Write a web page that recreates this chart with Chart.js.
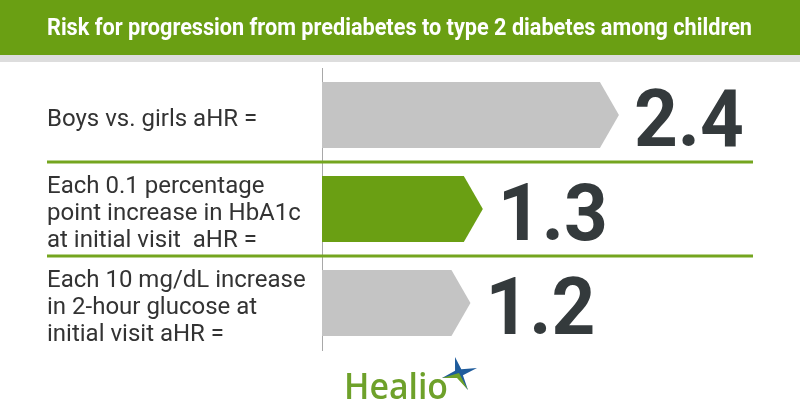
<!DOCTYPE html>
<html lang="en">
<head>
  <meta charset="UTF-8" />
  <title>Risk for progression from prediabetes to type 2 diabetes among children</title>
  <style>
    html, body {
      margin: 0;
      padding: 0;
      background: #fff;
    }
    canvas {
      display: block;
    }
  </style>
</head>
<body>
  <canvas id="grafico" width="800" height="420"></canvas>

  <script src="https://cdn.jsdelivr.net/npm/chart.js"></script>
  <script>
    const titulo = "Risk for progression from prediabetes to type 2 diabetes among children";
    const categorias = [
      ["Boys vs. girls aHR ="],
      ["Each 0.1 percentage", "point increase in HbA1c", "at initial visit  aHR ="],
      ["Each 10 mg/dL increase", "in 2-hour glucose at", "initial visit aHR ="]
    ];
    const valoresAHR = [2.4, 1.3, 1.2];
    const etiquetasValor = ["2.4", "1.3", "1.2"];
    const coloresBarra = ["#c4c4c4", "#6a9f13", "#c4c4c4"];

    const VERDE = "#6a9f13";
    const PUNTA = 19;

    // cabecera verde, separadores y logo
    const decoracion = {
      id: "decoracion",
      beforeDraw(chart) {
        const ctx = chart.ctx;
        ctx.save();
        ctx.fillStyle = "#fff";
        ctx.fillRect(0, 0, chart.width, chart.height);
        ctx.fillStyle = VERDE;
        ctx.fillRect(0, 0, chart.width, 55);
        ctx.fillStyle = "#dddddd";
        ctx.fillRect(0, 55, chart.width, 7);
        ctx.fillStyle = "#fff";
        ctx.font = "bold 23px Roboto";
        ctx.textBaseline = "middle";
        ctx.textAlign = "left";
        ctx.fillText(titulo, 47, 29, 705);
        ctx.restore();
      },
      afterDraw(chart) {
        const ctx = chart.ctx;
        const y = chart.scales.y;
        const area = chart.chartArea;
        ctx.save();
        ctx.strokeStyle = "#74a51f";
        ctx.lineWidth = 3;
        for (let i = 0; i < categorias.length - 1; i++) {
          const py = (y.getPixelForValue(i) + y.getPixelForValue(i + 1)) / 2;
          ctx.beginPath();
          ctx.moveTo(47, py);
          ctx.lineTo(area.right - 2, py);
          ctx.stroke();
        }

        // logo Healio
        ctx.fillStyle = "#6ea12a";
        ctx.font = "600 36px 'Open Sans'";
        ctx.textBaseline = "alphabetic";
        ctx.fillText("Healio", 344, 399, 104);
        const cx = 459, cy = 373;
        const puntas = [[455, 357], [477, 368], [468, 390], [442, 378]];
        ctx.fillStyle = "#1f5c9c";
        ctx.beginPath();
        puntas.forEach((p, i) => {
          const a = Math.atan2(p[1] - cy, p[0] - cx) + Math.PI / 4;
          if (i === 0) ctx.moveTo(p[0], p[1]);
          else ctx.lineTo(p[0], p[1]);
          ctx.lineTo(cx + 4.5 * Math.cos(a), cy + 4.5 * Math.sin(a));
        });
        ctx.closePath();
        ctx.fill();
        ctx.fillStyle = "#6ea12a";
        ctx.beginPath();
        ctx.moveTo(cx, cy);
        ctx.lineTo(468, 390);
        ctx.lineTo(cx - 2, cy + 5);
        ctx.lineTo(442, 378);
        ctx.closePath();
        ctx.fill();
        ctx.restore();
      }
    };

    // barras con forma de flecha y valor grande
    const flechas = {
      id: "flechas",
      beforeDatasetsDraw(chart) {
        const ctx = chart.ctx;
        const meta = chart.getDatasetMeta(0);
        ctx.save();
        meta.data.forEach((barra, i) => {
          const { x, y, base, height } = barra.getProps(["x", "y", "base", "height"], true);
          const arriba = y - height / 2;
          const abajo = y + height / 2;
          ctx.fillStyle = coloresBarra[i];
          ctx.beginPath();
          ctx.moveTo(base, arriba);
          ctx.lineTo(x - PUNTA, arriba);
          ctx.lineTo(x, y);
          ctx.lineTo(x - PUNTA, abajo);
          ctx.lineTo(base, abajo);
          ctx.closePath();
          ctx.fill();

          ctx.fillStyle = "#343a3c";
          ctx.font = "bold 80px Roboto";
          ctx.textAlign = "left";
          ctx.textBaseline = "alphabetic";
          ctx.fillText(etiquetasValor[i], x + 15, y + 31, 110);
        });
        ctx.restore();
        return false;
      }
    };

    new Chart(document.getElementById("grafico"), {
      type: "bar",
      data: {
        labels: categorias,
        datasets: [{
          data: valoresAHR,
          backgroundColor: coloresBarra,
          barPercentage: 0.7,
          categoryPercentage: 1
        }]
      },
      options: {
        responsive: false,
        animation: false,
        devicePixelRatio: 1,
        indexAxis: "y",
        layout: {
          padding: { top: 68, left: 47, right: 45, bottom: 70 }
        },
        plugins: {
          legend: { display: false },
          tooltip: { enabled: false },
          title: { display: false }
        },
        scales: {
          x: {
            min: 0,
            max: 3.5,
            display: false
          },
          y: {
            grid: { display: false },
            border: { display: true, color: "#a8a8a8", width: 1 },
            ticks: {
              crossAlign: "far",
              color: "#333",
              padding: 10,
              labelOffset: 5,
              font: { family: "Roboto", size: 24, lineHeight: 1.13 }
            },
            afterFit(scale) {
              scale.width = 275;
            }
          }
        }
      },
      plugins: [decoracion, flechas]
    });
  </script>
</body>
</html>
